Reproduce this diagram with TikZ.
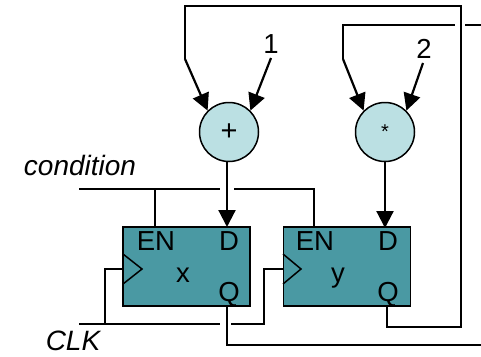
\documentclass[tikz,border=0pt]{standalone}
\usepackage{fontspec}
\setmainfont{Liberation Sans}
\usepackage{tikz}
\usetikzlibrary{positioning}
\usetikzlibrary{arrows.meta}
\definecolor{opfill}{HTML}{BBE0E3}
\definecolor{regfill}{HTML}{4A99A3}
\tikzset{%
  wire/.style = {line width=1.5pt,black},
  inarrow/.style = {line width=2.2pt,-{Triangle[length=17pt,width=17pt]}},
  c/.style = {circle,draw,line width=1.5pt,fill=opfill,minimum size=59pt,inner sep=0pt},
  r/.style = {rectangle,draw,line width=1.6pt,fill=regfill,minimum width=127pt,
        minimum height=79pt},
  lab/.style = {anchor=base,inner sep=0pt,font=\fontsize{27.5}{28}\selectfont}
}

\begin{document}
\begin{tikzpicture}[x=1pt,y=-1pt]
                    \useasboundingbox (0,0) rectangle (481,356);
                    \node[r] (regx) at (186.5,266.5) {};
                    \node[r] (regy) [right=32pt of regx] {};
                    \node[c,font=\fontsize{29}{29}\selectfont] (plus) at (229,132) {+};
                    \node[c,font=\fontsize{20}{20}\selectfont] (times) at (385,132) {*};

                    \node[lab] (enx) at (156,250.5) {EN};
                    \node[lab] (dx) at (229,250.5) {D};
                    \node[lab] (qx) at (229,301) {Q};
                    \node[lab] (namex) at (183,282) {x};
                    \node[lab] (eny) at (315,250.5) {EN};
                    \node[lab] (dy) at (388,250.5) {D};
                    \node[lab] (qy) at (388,301) {Q};
                    \node[lab] (namey) at (338,282) {y};
                    \node[lab] (one) at (271,53) {1};
                    \node[lab] (two) at (424,58) {2};
                    \node[lab,font=\fontsize{28}{28}\selectfont\itshape] (cond) at (80,175) {condition};
                    \node[lab,font=\fontsize{28}{28}\selectfont\itshape] (clk) at (73,350) {CLK};

                    % wire corners and free ends
                    \coordinate (fbtop) at (185,59);
                    \coordinate (fbmid) at (343,59);
                    \coordinate (onein) at (271,58);
                    \coordinate (twoin) at (423,63);
                    \coordinate (dxin) at (227,227);
                    \coordinate (dyin) at (385,228);
                    \coordinate (qxout) at (227,306);
                    \coordinate (qyout) at (387,306);
                    \coordinate (rightend) at (481,345);
                    \coordinate (midgapa) at (455,25);
                    \coordinate (midgapb) at (465,25);
                    \coordinate (midend) at (481,25);
                    \coordinate (condl) at (79,189);
                    \coordinate (conda) at (220,189);
                    \coordinate (condb) at (234,189);
                    \coordinate (enxin) at (155,227);
                    \coordinate (enyin) at (314,227);
                    \coordinate (clkl) at (79,324);
                    \coordinate (clka) at (220,324);
                    \coordinate (clkb) at (231,324);
                    \coordinate (ckx) at (123,269);
                    \coordinate (cky) at (283,269);

                    \draw[wire] (fbtop) -- (185,6) -- (461,6) -- (461,327) -- (387,327) -- (qyout);
                    \draw[wire] (qxout) -- (227,345) -- (rightend);
                    \draw[wire] (fbmid) -- (343,25) -- (midgapa);
                    \draw[wire] (midgapb) -- (midend);

                    \draw[inarrow] (fbtop) -- (plus.135);
                    \draw[inarrow] (onein) -- (plus.45);
                    \draw[inarrow] (fbmid) -- (times.135);
                    \draw[inarrow] (twoin) -- (times.45);
                    \draw[inarrow] (dxin |- plus.south) -- (dxin);
                    \draw[inarrow] (dyin |- times.south) -- (dyin);

                    \draw[wire] (condl) -- (conda);
                    \draw[wire] (enxin |- condl) -- (enxin);
                    \draw[wire] (condb) -- (314,189) -- (enyin);

                    \draw[wire] (clkl) -- (clka);
                    \draw[wire] (105,324) -- (105,269) -- (ckx);
                    \draw[wire] (clkb) -- (264,324) -- (264,269) -- (cky);
                    \draw[wire] (123,254) -- (142,269) -- (123,284);
                    \draw[wire] (283,254) -- (301,269) -- (283,284);
                 \end{tikzpicture}
\end{document}
